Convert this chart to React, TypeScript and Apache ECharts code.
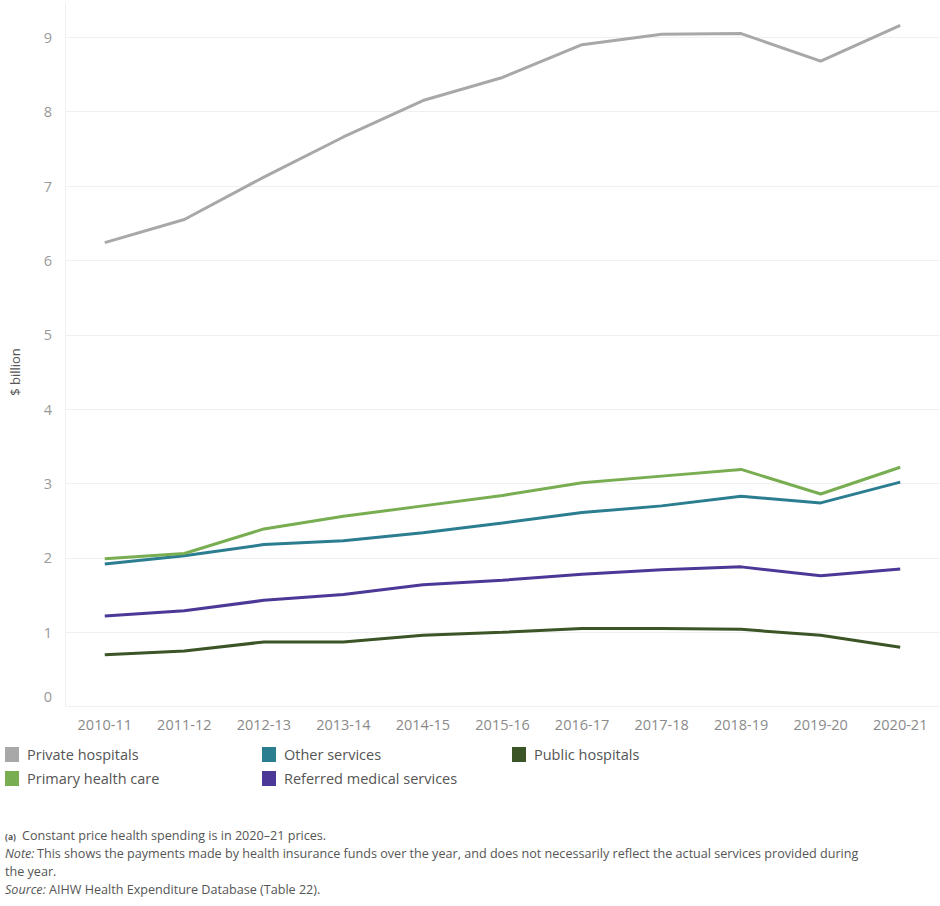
import React, { useEffect, useRef } from "react";
import * as echarts from "echarts";

const categories = ["2010-11", "2011-12", "2012-13", "2013-14", "2014-15", "2015-16", "2016-17", "2017-18", "2018-19", "2019-20", "2020-21"];
const privateHospitals = [6.24, 6.55, 7.12, 7.66, 8.15, 8.46, 8.9, 9.04, 9.05, 8.68, 9.16];
const primaryHealthCare = [1.99, 2.06, 2.39, 2.56, 2.7, 2.84, 3.01, 3.1, 3.19, 2.86, 3.22];
const otherServices = [1.92, 2.03, 2.18, 2.23, 2.34, 2.47, 2.61, 2.7, 2.83, 2.74, 3.02];
const referredMedical = [1.22, 1.29, 1.43, 1.51, 1.64, 1.7, 1.78, 1.84, 1.88, 1.76, 1.85];
const publicHospitals = [0.7, 0.75, 0.87, 0.87, 0.96, 1.0, 1.05, 1.05, 1.04, 0.96, 0.8];
const yTicks = [0, 1, 2, 3, 4, 5, 6, 7, 8, 9];

const FONT = "'Open Sans', 'Noto Sans', sans-serif";

const seriesDefs = [
  { name: "Private hospitals", data: privateHospitals, color: "#a8a8a8" },
  { name: "Other services", data: otherServices, color: "#2b7d90" },
  { name: "Public hospitals", data: publicHospitals, color: "#3b5526" },
  { name: "Primary health care", data: primaryHealthCare, color: "#78ad52" },
  { name: "Referred medical services", data: referredMedical, color: "#4c3896" },
];

const legendPos: Record<string, [number, number]> = {
  "Private hospitals": [5, 747],
  "Other services": [262, 747],
  "Public hospitals": [512, 747],
  "Primary health care": [5, 771],
  "Referred medical services": [262, 771],
};

export default function App() {
  const ref = useRef<HTMLDivElement>(null);
  useEffect(() => {
    if (!ref.current) return;
    const chart = echarts.init(ref.current, null, { renderer: "svg" });
    const noteStyle = { fontFamily: FONT, fontSize: 12.6, fill: "#555" };
    const italic = { ...noteStyle, fontStyle: "italic" };
    chart.setOption({
      animation: false,
      backgroundColor: "#ffffff",
      textStyle: { fontFamily: FONT },
      grid: { left: 64.7, right: -11.3, top: 37.3, bottom: 199.3, containLabel: false },
      legend: seriesDefs.map((s) => ({
        data: [s.name],
        left: legendPos[s.name][0],
        top: legendPos[s.name][1],
        icon: "rect",
        itemWidth: 14,
        itemHeight: 15,
        itemGap: 0,
        padding: 0,
        textStyle: { fontFamily: FONT, fontSize: 14.5, color: "#555", padding: [0, 0, 0, 3] },
        selectedMode: false,
      })),
      xAxis: {
        type: "category",
        data: categories,
        boundaryGap: true,
        axisLine: { show: false },
        axisTick: { show: false },
        axisLabel: { color: "#8a8a8a", fontSize: 14.5, fontFamily: FONT, margin: 10 },
        splitLine: { show: false },
      },
      yAxis: {
        type: "value",
        min: 0,
        max: 9,
        interval: 1,
        name: "$ billion",
        nameLocation: "middle",
        nameRotate: 90,
        nameGap: 44,
        nameTextStyle: { color: "#555", fontSize: 13, fontFamily: FONT },
        axisLine: { show: false },
        axisTick: { show: false },
        axisLabel: {
          color: "#999",
          fontSize: 14.5,
          fontFamily: FONT,
          margin: 13,
          formatter: (v: number) => (v === 0 ? "{z|0}" : yTicks.includes(v) ? String(v) : ""),
          rich: { z: { fontSize: 14.5, color: "#999", fontFamily: FONT, padding: [0, 0, 20, 0] } },
        },
        splitLine: { show: true, lineStyle: { color: "#f0f0f0", width: 1 } },
      },
      series: seriesDefs.map((s) => ({
        name: s.name,
        type: "line",
        data: s.data,
        symbol: "none",
        clip: false,
        color: s.color,
        lineStyle: { color: s.color, width: 3 },
      })),
      graphic: [
        { type: "line", shape: { x1: 65.5, y1: 3, x2: 65.5, y2: 707 }, style: { stroke: "#eeeeee", lineWidth: 1 }, silent: true },
        { type: "text", left: 5, top: 832, style: { ...noteStyle, text: "(a)", fontSize: 8.5, fontWeight: "bold" } },
        { type: "text", left: 22, top: 829, style: { ...noteStyle, text: "Constant price health spending is in 2020–21 prices." } },
        { type: "text", left: 5, top: 847, style: { ...italic, text: "Note:" } },
        {
          type: "text",
          left: 37,
          top: 847,
          style: {
            ...noteStyle,
            text: "This shows the payments made by health insurance funds over the year, and does not necessarily reflect the actual services provided during",
          },
        },
        { type: "text", left: 5, top: 865, style: { ...noteStyle, text: "the year." } },
        { type: "text", left: 5, top: 883, style: { ...italic, text: "Source:" } },
        { type: "text", left: 49, top: 883, style: { ...noteStyle, text: "AIHW Health Expenditure Database (Table 22)." } },
      ],
    });
    return () => chart.dispose();
  }, []);
  return <div ref={ref} style={{ width: 940, height: 906, position: "absolute", left: 0, top: 0 }} />;
}
